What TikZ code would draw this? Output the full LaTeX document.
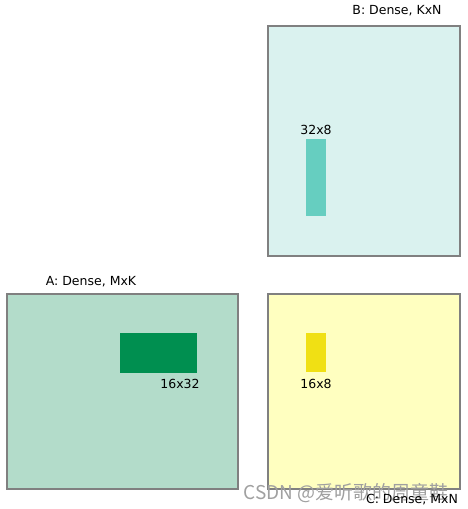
\documentclass[tikz,border=0pt]{standalone}
\usepackage{fontspec}
\setmainfont{DejaVu Sans}
\newfontfamily\cjk{Noto Sans CJK SC}
\definecolor{bordergray}{HTML}{808080}
\definecolor{bfill}{HTML}{DAF2EF}
\definecolor{afill}{HTML}{B3DCCA}
\definecolor{cfill}{HTML}{FFFFC0}
\definecolor{tealtile}{HTML}{66CEC0}
\definecolor{greentile}{HTML}{008F50}
\definecolor{yellowtile}{HTML}{F0E014}
\definecolor{wmgray}{HTML}{A0A0A0}
\tikzset{
  matbox/.style={draw=bordergray, line width=2.8pt},
  lbl/.style={font=\fontsize{12.5}{15}\selectfont, text=black, inner sep=0pt},
}
\begin{document}
\begin{tikzpicture}[x=1pt,y=-1pt]
\useasboundingbox (0,0) rectangle (467,509);
% B
\filldraw[matbox, fill=bfill] (268,26) rectangle (460,256);
\node[lbl] (Blbl) at (397,11) {B: Dense, KxN};
\fill[tealtile] (306,139) rectangle (326,216);
\node[lbl] (Btile) at (316,130) {32x8};
% A
\filldraw[matbox, fill=afill] (7,294) rectangle (238,489);
\node[lbl] (Albl) at (91,282) {A: Dense, MxK};
\fill[greentile] (120,333) rectangle (197,373);
\node[lbl] (Atile) at (180,384) {16x32};
% C
\filldraw[matbox, fill=cfill] (268,294) rectangle (460,489);
\fill[yellowtile] (306,333) rectangle (326,372);
\node[lbl] (Ctile) at (316,384) {16x8};
% watermark
\node[font=\cjk\fontsize{19}{22}\selectfont, text=wmgray, inner sep=0pt] (wm) at (346,493) {CSDN @爱听歌的周童鞋};
\node[lbl] (Clbl) at (412,500) {C: Dense, MxN};
\end{tikzpicture}
\end{document}
